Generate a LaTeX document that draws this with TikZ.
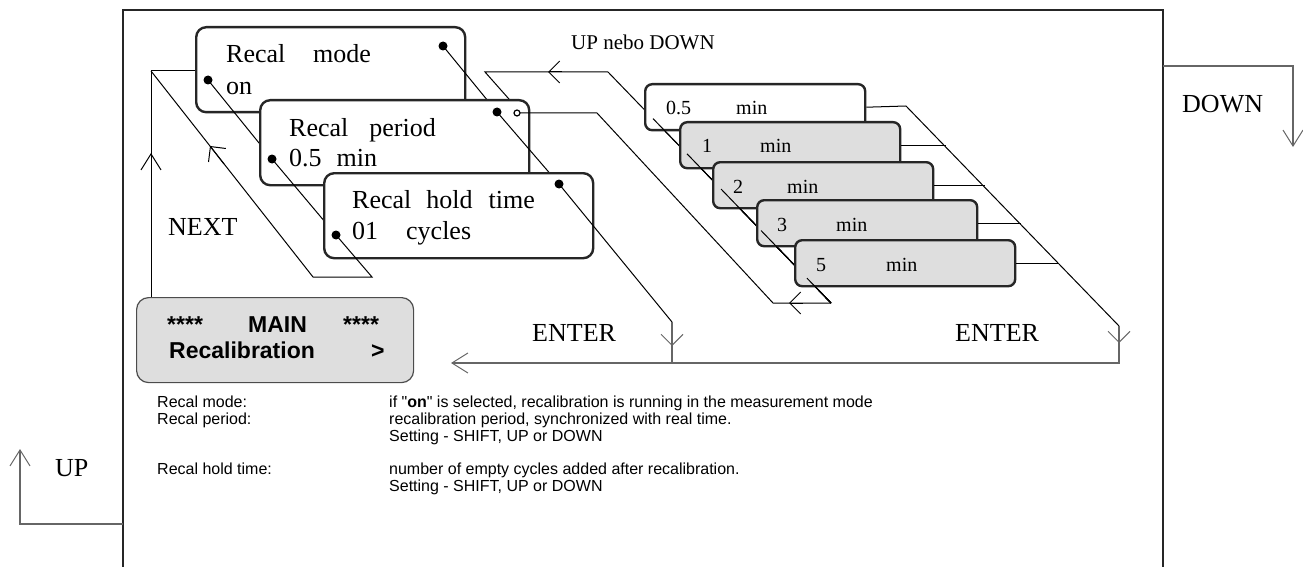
\documentclass[tikz,border=0pt]{standalone}
\usepackage{fontspec}
\setmainfont{Liberation Serif}
\setsansfont{Liberation Sans}
\usetikzlibrary{arrows.meta}
\definecolor{lcd}{HTML}{DEDEDE}
\definecolor{ink}{HTML}{262626}

\begin{document}
\begin{tikzpicture}[x=1pt,y=-1pt,
 menu/.style={draw=ink,line width=2.4pt,rounded corners=10pt,fill=white,
   minimum width=269pt,minimum height=85pt,anchor=north west,inner sep=0pt},
 val/.style={draw=ink,line width=2.4pt,rounded corners=7pt,fill=lcd,
   minimum width=220pt,minimum height=46pt,anchor=north west,inner sep=0pt},
 big/.style={font=\fontsize{26}{30}\selectfont,inner sep=0pt,anchor=base west},
 valtext/.style={font=\fontsize{20}{24}\selectfont,inner sep=0pt,anchor=base west},
 lcdtext/.style={font=\sffamily\bfseries\fontsize{23}{27}\selectfont,inner sep=0pt,anchor=base west},
 desc/.style={font=\sffamily\fontsize{16}{18}\selectfont,inner sep=0pt,anchor=base west},
 wire/.style={line width=1pt,draw=black},
 bus/.style={line width=1.3pt,draw=black!60},
 barbw/.tip={Straight Barb[length=11pt,width=22pt,line width=1pt]},
 barbn/.tip={Straight Barb[length=16pt,width=20pt,line width=1pt]},
]
 \useasboundingbox (0,0) rectangle (1303,567);
 \draw[ink,line width=2.6pt] (123,570) -- (123,10) -- (1163,10) -- (1163,570);

 \coordinate (upfoot) at (123,524);
 \coordinate (upbend) at (20,524);
 \coordinate (uptip) at (20,449);
 \draw[bus,-{barbn}] (upfoot) -- (upbend) -- (uptip);
 \node[big] (uplabel) at (55,476) {UP};

 \coordinate (downfoot) at (1163,66);
 \coordinate (downbend) at (1293,66);
 \coordinate (downtip) at (1293,147);
 \draw[bus,-{barbn}] (downfoot) -- (downbend) -- (downtip);
 \node[big] (downlabel) at (1182,113) {DOWN};

 \coordinate (nextfoot) at (151,297);
 \coordinate (nextcorner) at (151,71);
 \coordinate (modein) at (195,71);
 \draw[wire] (nextfoot) -- (nextcorner) -- (modein);
 \draw[wire,-{barbn}] (151,175) -- (151,153);
 \node[big] (nextlabel) at (168,235) {NEXT};

 \node[menu] (modebox) at (195,26) {};
 \node[big] (modeline1) at (226,63) {Recal\hspace{27.8pt}mode};
 \node[big] (modeline2) at (226,95) {on};
 \coordinate (moderdot) at (443,46);
 \coordinate (modeldot) at (208,80);
 \fill (moderdot) circle (4.5pt);
 \fill (modeldot) circle (4.5pt);
 \coordinate (periodrdot) at (497,112);
 \coordinate (periodldot) at (272,159);
 \coordinate (periodocirc) at (517,113);
 \draw[wire] (modeldot) -- (periodldot);
 \draw[wire] (moderdot) -- (periodrdot);

 \coordinate (listtop) at (608,72);
 \coordinate (selbend) at (485,72);
 \coordinate (selend) at (524,116);
 \draw[wire] (listtop) -- (selbend) -- (selend);
 \draw[wire,-{barbw}] (562,72) -- (548,72);
 \node[font=\fontsize{21}{25}\selectfont,inner sep=0pt,anchor=base west] (sellabel) at (571,50) {UP nebo DOWN};

 \node[menu] (periodbox) at (259,99) {};
 \node[big] (periodline1) at (289,136) {Recal\hspace{21pt}period};
 \node[big] (periodline2) at (289,166) {0.5\hspace{15pt}min};
 \coordinate (holdrdot) at (559,184);
 \coordinate (holdldot) at (336,235);
 \draw[wire] (periodldot) -- (holdldot);
 \draw[wire] (periodrdot) -- (holdrdot);
 \fill (periodrdot) circle (4.5pt);
 \fill (periodldot) circle (4.5pt);

 \coordinate (retbend) at (597,113);
 \coordinate (retlow) at (773,303);
 \coordinate (listend) at (831,303);
 \draw[wire] (periodocirc) -- (retbend) -- (retlow) -- (listend);
 \draw[wire,-{barbw}] (803,303) -- (789,303);
 \draw[line width=1.2pt,fill=white] (periodocirc) circle (3pt);

 \node[menu] (holdbox) at (323,172) {};
 \node[big] (holdline1) at (352,208) {Recal\hspace{15pt}hold\hspace{16pt}time};
 \node[big] (holdline2) at (352,239) {01\hspace{28pt}cycles};
 \coordinate (nextlow) at (372,277);
 \coordinate (nextlowl) at (313,277);
 \coordinate (enterlow) at (672,322);
 \coordinate (enterfoot) at (672,363);
 \draw[wire] (holdldot) -- (nextlow) -- (nextlowl) -- (nextcorner);
 \draw[wire,-{barbw}] (224,164) -- (210,146);
 \draw[wire] (holdrdot) -- (enterlow);
 \fill (holdrdot) circle (4.5pt);
 \fill (holdldot) circle (4.5pt);

 \draw[wire] (listtop) -- (listend);
 \node[val,fill=white] (v05) at (644,83) {};
 \node[valtext] (v05num) at (666,115) {0.5};
 \node[valtext] (v05unit) at (736,115) {min};
 \draw[wire] (653,118.6) -- (listend);
 \node[val] (v1) at (679,121) {};
 \node[valtext] (v1num) at (702,153) {1};
 \node[valtext] (v1unit) at (760,153) {min};
 \draw[wire] (687,153.8) -- (listend);
 \node[val] (v2) at (712,161) {};
 \node[valtext] (v2num) at (733,193) {2};
 \node[valtext] (v2unit) at (787,193) {min};
 \draw[wire] (721,189) -- (listend);
 \node[val] (v3) at (756,199) {};
 \node[valtext] (v3num) at (777,231) {3};
 \node[valtext] (v3unit) at (836,231) {min};
 \draw[wire] (761,230.5) -- (listend);
 \node[val] (v5) at (794,239) {};
 \node[valtext] (v5num) at (816,271) {5};
 \node[valtext] (v5unit) at (886,271) {min};
 \draw[wire] (807,278.2) -- (listend);

 \coordinate (rtop) at (906,106);
 \coordinate (enter2low) at (1119,326);
 \coordinate (enter2foot) at (1119,363);
 \coordinate (maintip) at (451,363);
 \draw[wire] (v05.east) -- (rtop) -- (enter2low);
 \draw[wire] (v1.east) -- ++(45,0);
 \draw[wire] (v2.east) -- ++(51,0);
 \draw[wire] (v3.east) -- ++(43,0);
 \draw[wire] (v5.east) -- ++(43,0);
 \draw[bus] (enterlow) -- (enterfoot);
 \draw[bus,-{barbn}] (enter2low) -- (enter2foot) -- (maintip);
 \draw[bus,-{barbw}] (672,332) -- (672,346);
 \draw[bus,-{barbw}] (1119,329) -- (1119,343);
 \node[big] (enter1) at (532,341) {ENTER};
 \node[big] (enter2) at (955,341) {ENTER};

 \node[draw=black!70,line width=1.2pt,rounded corners=12pt,fill=lcd,inner sep=0pt,
   minimum width=277pt,minimum height=85pt,anchor=north west] (mainbox) at (136,297) {};
 \node[lcdtext] (mainstar1) at (167,332) {****};
 \node[lcdtext] (maintitle) at (248,332) {MAIN};
 \node[lcdtext] (mainstar2) at (343,332) {****};
 \node[lcdtext] (mainitem) at (169,358) {Recalibration};
 \node[lcdtext] (mainmore) at (371,358) {>};

 \node[desc] (dmode) at (157,407) {Recal mode:};
 \node[desc] (dmodetxt) at (389,407) {if \textquotedbl\textbf{on}\textquotedbl{} is selected, recalibration is running in the measurement mode};
 \node[desc] (dperiod) at (157,424) {Recal period:};
 \node[desc] (dperiodtxt) at (389,424) {recalibration period, synchronized with real time.};
 \node[desc] (dperiodset) at (389,441) {Setting - SHIFT, UP or DOWN};
 \node[desc] (dhold) at (157,474) {Recal hold time:};
 \node[desc] (dholdtxt) at (389,474) {number of empty cycles added after recalibration.};
 \node[desc] (dholdset) at (389,491) {Setting - SHIFT, UP or DOWN};
\end{tikzpicture}
\end{document}
